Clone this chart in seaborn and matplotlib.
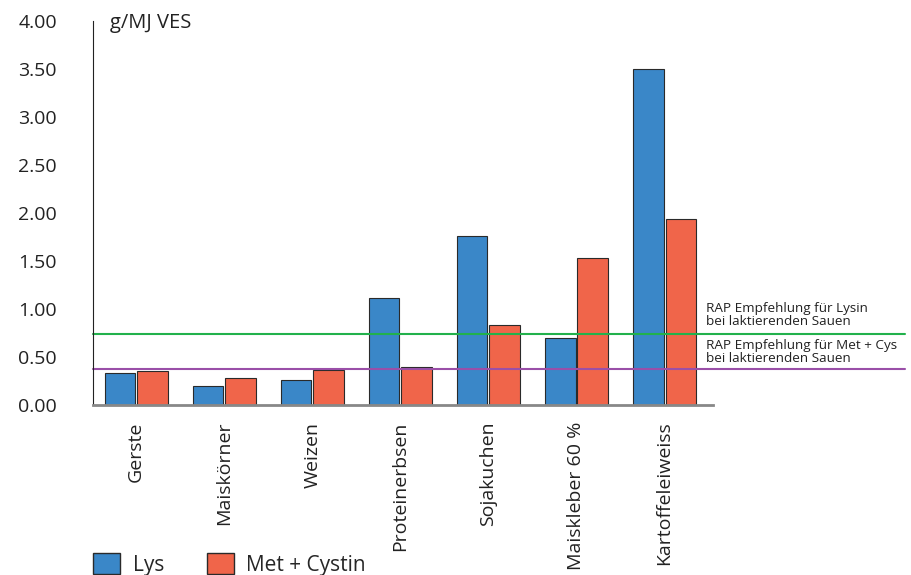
import matplotlib
matplotlib.use("Agg")
import matplotlib.pyplot as plt
import pandas as pd
import numpy as np
import seaborn as sns
from matplotlib.patches import Patch

# Daten
futtermittel = ["Gerste", "Maiskörner", "Weizen", "Proteinerbsen",
                "Sojakuchen", "Maiskleber 60 %", "Kartoffeleiweiss"]
lys = [0.33, 0.20, 0.26, 1.11, 1.76, 0.70, 3.50]
met_cys = [0.35, 0.28, 0.36, 0.40, 0.83, 1.53, 1.94]
rap_lysin = 0.74
rap_met_cys = 0.375
y_ticks = [0.0, 0.5, 1.0, 1.5, 2.0, 2.5, 3.0, 3.5, 4.0]

df = pd.DataFrame({
    "Futtermittel": futtermittel * 2,
    "Wert": lys + met_cys,
    "Serie": ["Lys"] * len(lys) + ["Met + Cystin"] * len(met_cys),
})

sns.set_style("white")
plt.rcParams["font.family"] = ["Open Sans", "DejaVu Sans"]

blau = "#3a87c8"
rot = "#f0654a"

fig = plt.figure(figsize=(9.11, 5.75), dpi=100)
ax = fig.add_axes([93 / 911, 170 / 575, 620 / 911, 384 / 575])

sns.barplot(data=df, x="Futtermittel", y="Wert", hue="Serie",
            palette=[blau, rot], width=0.74, gap=0.06,
            edgecolor="#2a2a2a", linewidth=0.8, saturation=1,
            legend=False, ax=ax)

ax.set_xlim(-0.49, 6.55)
ax.set_ylim(0, 4.0)
ax.set_yticks(y_ticks)
ax.set_yticklabels([f"{v:.2f}" for v in y_ticks])
ax.set_xlabel("")
ax.set_ylabel("")

# Achsen
for s in ["top", "right"]:
    ax.spines[s].set_visible(False)
ax.spines["left"].set_color("#222222")
ax.spines["left"].set_linewidth(0.8)
ax.spines["bottom"].set_color("#888888")
ax.spines["bottom"].set_linewidth(2)
ax.tick_params(axis="y", direction="out", length=19, width=1.2,
               color="#666666", labelsize=14, pad=7, labelcolor="#222222")
ax.tick_params(axis="x", length=0, labelsize=14, pad=12, labelcolor="#222222")
plt.setp(ax.get_xticklabels(), rotation=90, va="top")

ax.text(0.027, 0.995, "g/MJ VES", transform=ax.transAxes, fontsize=14.5,
        va="center", ha="left", color="#222222")

# Empfehlungslinien
x_ende = (905 - 93) / 620
ax.axhline(rap_lysin, xmin=0, xmax=x_ende, color="#22b14c", lw=1.5, clip_on=False)
ax.axhline(rap_met_cys, xmin=0, xmax=x_ende, color="#9a4fa8", lw=1.5, clip_on=False)
x_txt = 1 - 7 / 620
ax.text(x_txt, rap_lysin + 0.06, "RAP Empfehlung für Lysin\nbei laktierenden Sauen",
        transform=ax.get_yaxis_transform(), fontsize=9.7, va="bottom",
        ha="left", linespacing=1.0, color="#222222")
ax.text(x_txt, rap_met_cys + 0.04, "RAP Empfehlung für Met + Cys\nbei laktierenden Sauen",
        transform=ax.get_yaxis_transform(), fontsize=9.7, va="bottom",
        ha="left", linespacing=1.0, color="#222222")

# Legende
handles = [Patch(facecolor=blau, edgecolor="#2a2a2a", label="Lys"),
           Patch(facecolor=rot, edgecolor="#2a2a2a", label="Met + Cystin")]
fig.legend(handles=handles, loc="upper left", bbox_to_anchor=(93 / 911, 22 / 575),
           ncol=2, frameon=False, fontsize=15, handlelength=1.3,
           handleheight=1.2, borderpad=0, borderaxespad=0, columnspacing=2.05,
           handletextpad=0.6)

fig.savefig("out.png", dpi=100)
